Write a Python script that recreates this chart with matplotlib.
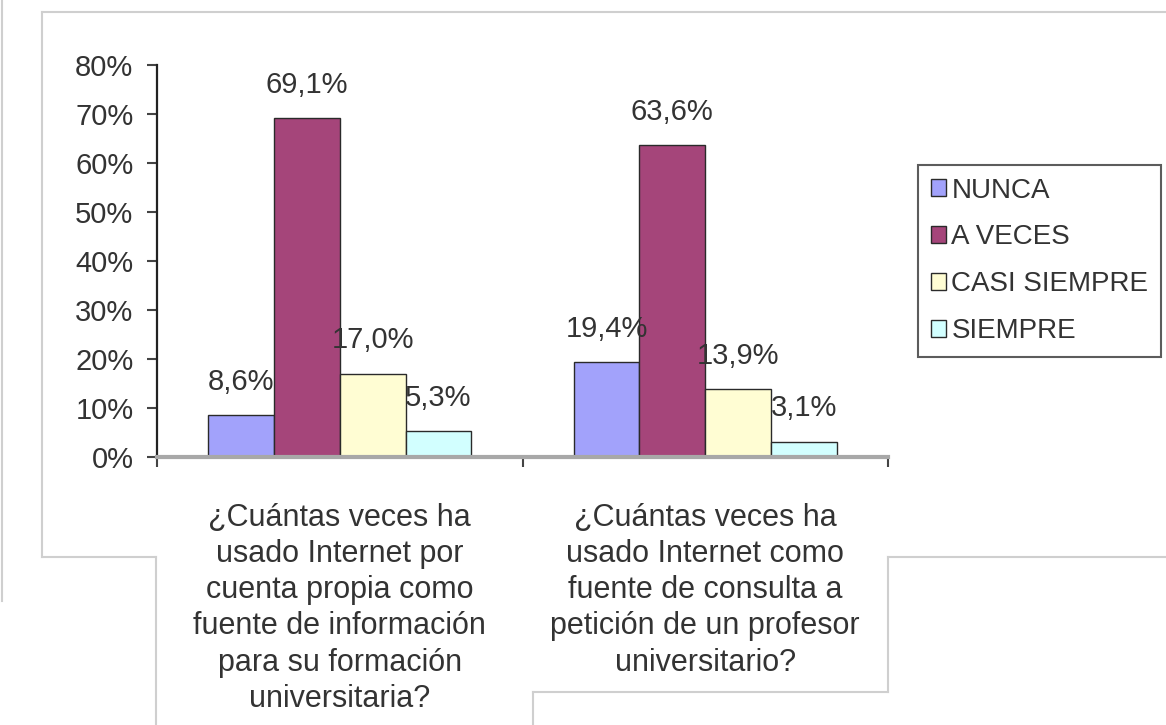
import matplotlib
matplotlib.use("Agg")
import matplotlib.pyplot as plt
from matplotlib.lines import Line2D
from matplotlib.patches import Patch
import numpy as np

plt.rcParams["font.family"] = ["Liberation Sans", "DejaVu Sans"]

categories = [
    "¿Cuántas veces ha\nusado Internet por\ncuenta propia como\nfuente de información\npara su formación\nuniversitaria?",
    "¿Cuántas veces ha\nusado Internet como\nfuente de consulta a\npetición de un profesor\nuniversitario?",
]
series = ["NUNCA", "A VECES", "CASI SIEMPRE", "SIEMPRE"]
values = {
    "NUNCA": [0.086, 0.194],
    "A VECES": [0.691, 0.636],
    "CASI SIEMPRE": [0.170, 0.139],
    "SIEMPRE": [0.053, 0.031],
}
colors = ["#a2a2fb", "#a5457a", "#fffdd3", "#d2ffff"]
yticks = [0, 0.1, 0.2, 0.3, 0.4, 0.5, 0.6, 0.7, 0.8]

W, H = 1166, 725
TXT = "#333333"
fig = plt.figure(figsize=(W / 100, H / 100), dpi=100, facecolor="white")
ax = fig.add_axes([157 / W, 1 - 457 / H, (888 - 157) / W, (457 - 65) / H])

# gray frame pieces from the source screenshot
frame = [((2, 2), (0, 601)), ((42, W), (12, 12)), ((42, 42), (12, 557)),
         ((42, 156), (557, 557)), ((156, 156), (557, H)),
         ((888, W), (557, 557)), ((888, 888), (557, 692)),
         ((533, 888), (692, 692)), ((533, 533), (692, H))]
for xs, ys in frame:
    fig.add_artist(Line2D([x / W for x in xs], [1 - y / H for y in ys],
                          color="#cfcfcf", lw=1.5))

x = np.arange(len(categories))
w = 0.18
for i, (name, c) in enumerate(zip(series, colors)):
    pos = x + (i - 1.5) * w
    bars = ax.bar(pos, values[name], w, color=c, edgecolor="#2a2a2a", lw=1.0,
                  label=name, zorder=3)
    for b, v in zip(bars, values[name]):
        ax.annotate(f"{v * 100:.1f}%".replace(".", ","),
                    (b.get_x() + b.get_width() / 2, v), xytext=(0, 24),
                    textcoords="offset points", ha="center", va="center",
                    fontsize=21, color=TXT, zorder=4)

ax.set_xlim(-0.5, 1.5)
ax.set_ylim(0, 0.8)
ax.set_yticks(yticks, [f"{int(round(t * 100))}%" for t in yticks])
ax.set_xticks([-0.5, 0.5, 1.5], ["", "", ""])
ax.set_xticks(x, categories, minor=True)
ax.tick_params(axis="x", which="minor", length=0, pad=33, labelsize=22, labelcolor=TXT)
for lbl in ax.get_xticklabels(minor=True):
    lbl.set_linespacing(1.27)
ax.tick_params(axis="x", which="major", direction="out", length=7, width=1.5, color="#444444")
ax.tick_params(axis="y", direction="out", length=7, width=1.5, color="#444444",
               labelsize=21, labelcolor=TXT, pad=10)
for s in ["top", "right"]:
    ax.spines[s].set_visible(False)
ax.spines["left"].set_color("#222222")
ax.spines["left"].set_linewidth(1.6)
ax.spines["bottom"].set_color("#a8a8a8")
ax.spines["bottom"].set_linewidth(3)
ax.spines["bottom"].set_zorder(5)

handles = [Patch(facecolor=c, edgecolor="#2a2a2a", lw=1.0) for c in colors]
leg = fig.legend(handles, series, loc="upper left", bbox_to_anchor=(918 / W, 1 - 165 / H),
                 borderaxespad=0, fontsize=20, frameon=True, fancybox=False,
                 handlelength=0.55, handleheight=0.55, handletextpad=0.2,
                 labelspacing=0.75, borderpad=0.45, labelcolor=TXT)
leg.get_frame().set_edgecolor("#333333")
leg.get_frame().set_linewidth(1.5)

fig.savefig("out.png", dpi=100)
